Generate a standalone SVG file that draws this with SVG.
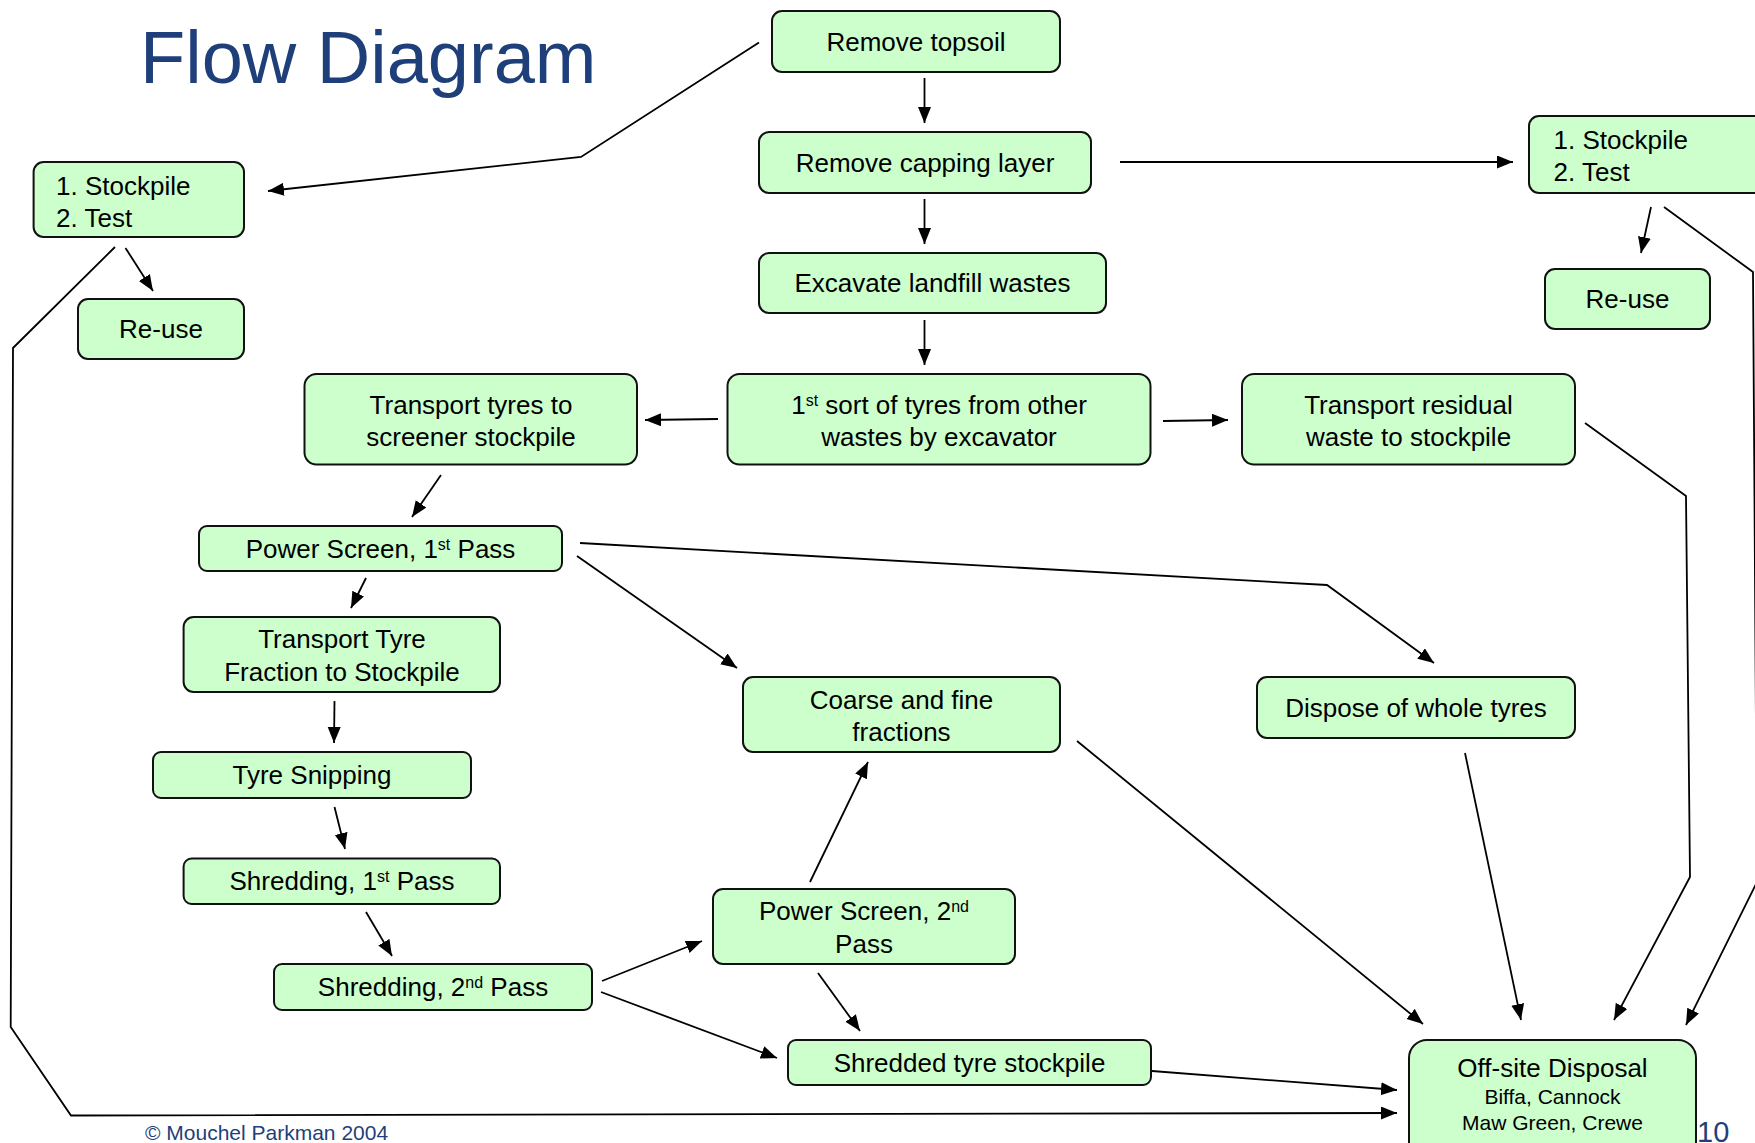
<svg xmlns="http://www.w3.org/2000/svg" width="1755" height="1143" viewBox="0 0 1755 1143">
<defs>
<style>
.box{fill:#CCFFCC;stroke:#111;stroke-width:2}
.t{font-family:"Liberation Sans",Arial,sans-serif;font-size:26px;fill:#000;text-anchor:middle}
.tl{font-family:"Liberation Sans",Arial,sans-serif;font-size:26px;fill:#000}
.ts{font-family:"Liberation Sans",Arial,sans-serif;font-size:21px;fill:#000;text-anchor:middle}
.sup{font-size:16px}
.c{fill:none;stroke:#000;stroke-width:1.8}
.blue{font-family:"Liberation Sans",Arial,sans-serif;fill:#1F3F7A}
</style>
<marker id="ah" markerUnits="userSpaceOnUse" markerWidth="17" markerHeight="14" refX="16" refY="6.5" orient="auto" viewBox="0 0 17 14">
<path d="M0,0 L16,6.5 L0,13 z" fill="#000"/>
</marker>
</defs>
<rect width="1755" height="1143" fill="#fff"/>
<text class="blue" x="140" y="83" font-size="74">Flow Diagram</text>
<text class="blue" x="145" y="1140" font-size="21">© Mouchel Parkman 2004</text>
<text class="blue" x="1697" y="1142" font-size="29">10</text>

<g id="connectors">
<line class="c" x1="924.5" y1="78" x2="924.5" y2="123" marker-end="url(#ah)"/>
<line class="c" x1="924.5" y1="199" x2="924.5" y2="244" marker-end="url(#ah)"/>
<line class="c" x1="924.5" y1="320" x2="924.5" y2="365" marker-end="url(#ah)"/>
<line class="c" x1="1120" y1="162" x2="1513" y2="162" marker-end="url(#ah)"/>
<polyline class="c" points="759,42.5 581,157 268,191" marker-end="url(#ah)"/>
<line class="c" x1="125.5" y1="248" x2="153" y2="291" marker-end="url(#ah)"/>
<polyline class="c" points="115,247 13,348 10.7,1027 71,1115.5 1397,1113" marker-end="url(#ah)"/>
<line class="c" x1="1651" y1="207" x2="1641" y2="253" marker-end="url(#ah)"/>
<polyline class="c" points="1664,207 1753,272 1757,882 1686,1025" marker-end="url(#ah)"/>
<line class="c" x1="718" y1="419" x2="645" y2="420" marker-end="url(#ah)"/>
<line class="c" x1="1163" y1="421" x2="1228" y2="420" marker-end="url(#ah)"/>
<polyline class="c" points="1585,423 1686,496 1690,877 1614,1020" marker-end="url(#ah)"/>
<line class="c" x1="441" y1="475" x2="412" y2="517" marker-end="url(#ah)"/>
<line class="c" x1="366" y1="578" x2="351" y2="608" marker-end="url(#ah)"/>
<line class="c" x1="577" y1="556" x2="737" y2="668" marker-end="url(#ah)"/>
<polyline class="c" points="580,543 1327,585 1434,663" marker-end="url(#ah)"/>
<line class="c" x1="334.5" y1="701" x2="334" y2="743" marker-end="url(#ah)"/>
<line class="c" x1="334.5" y1="807" x2="345" y2="849" marker-end="url(#ah)"/>
<line class="c" x1="366" y1="912" x2="392" y2="956" marker-end="url(#ah)"/>
<line class="c" x1="602" y1="981" x2="702" y2="941" marker-end="url(#ah)"/>
<line class="c" x1="601" y1="992" x2="777" y2="1058" marker-end="url(#ah)"/>
<line class="c" x1="810" y1="882" x2="868" y2="762" marker-end="url(#ah)"/>
<line class="c" x1="818" y1="973" x2="860" y2="1031" marker-end="url(#ah)"/>
<line class="c" x1="1152" y1="1071" x2="1397" y2="1090" marker-end="url(#ah)"/>
<line class="c" x1="1077" y1="741" x2="1423" y2="1024" marker-end="url(#ah)"/>
<line class="c" x1="1465" y1="753" x2="1521" y2="1020" marker-end="url(#ah)"/>
</g>

<g id="remove-topsoil"><rect class="box" x="772" y="11" width="288" height="61" rx="10"/><text class="t" x="916" y="51">Remove topsoil</text></g>
<g id="remove-capping"><rect class="box" x="759" y="132" width="332" height="61" rx="10"/><text class="t" x="925" y="172">Remove capping layer</text></g>
<g id="excavate"><rect class="box" x="759" y="253" width="347" height="60" rx="10"/><text class="t" x="932.5" y="292">Excavate landfill wastes</text></g>
<g id="first-sort"><rect class="box" x="727.5" y="374" width="423" height="90.5" rx="12"/><text class="t" x="939" y="414"><tspan>1</tspan><tspan class="sup" baseline-shift="super">st</tspan><tspan> sort of tyres from other</tspan></text><text class="t" x="939" y="445.5">wastes by excavator</text></g>
<g id="transport-tyres"><rect class="box" x="304.5" y="374" width="332.5" height="90.5" rx="12"/><text class="t" x="471" y="414">Transport tyres to</text><text class="t" x="471" y="445.5">screener stockpile</text></g>
<g id="transport-residual"><rect class="box" x="1242" y="374" width="333" height="90.5" rx="12"/><text class="t" x="1408.5" y="414">Transport residual</text><text class="t" x="1408.5" y="445.5">waste to stockpile</text></g>
<g id="stockpile-left"><rect class="box" x="33.6" y="162" width="210.4" height="75" rx="10"/><text class="tl" x="56" y="195">1. Stockpile</text><text class="tl" x="56" y="227">2. Test</text></g>
<g id="reuse-left"><rect class="box" x="78" y="299" width="166" height="60" rx="10"/><text class="t" x="161" y="338">Re-use</text></g>
<g id="stockpile-right"><rect class="box" x="1529" y="116" width="240" height="77" rx="10"/><text class="tl" x="1553.6" y="149">1. Stockpile</text><text class="tl" x="1553.6" y="181">2. Test</text></g>
<g id="reuse-right"><rect class="box" x="1545" y="269" width="165" height="60" rx="10"/><text class="t" x="1627.5" y="308">Re-use</text></g>
<g id="power-screen-1"><rect class="box" x="199" y="526" width="363" height="45" rx="8"/><text class="t" x="380.5" y="557.5"><tspan>Power Screen, 1</tspan><tspan class="sup" baseline-shift="super">st</tspan><tspan> Pass</tspan></text></g>
<g id="transport-fraction"><rect class="box" x="183.6" y="617" width="316.4" height="75" rx="10"/><text class="t" x="342" y="648">Transport Tyre</text><text class="t" x="342" y="680.5">Fraction to Stockpile</text></g>
<g id="tyre-snipping"><rect class="box" x="153" y="752" width="318" height="46" rx="8"/><text class="t" x="312" y="784">Tyre Snipping</text></g>
<g id="shredding-1"><rect class="box" x="183.6" y="858.5" width="316.4" height="45.5" rx="8"/><text class="t" x="342" y="890"><tspan>Shredding, 1</tspan><tspan class="sup" baseline-shift="super">st</tspan><tspan> Pass</tspan></text></g>
<g id="shredding-2"><rect class="box" x="274" y="964" width="318" height="46" rx="8"/><text class="t" x="433" y="996"><tspan>Shredding, 2</tspan><tspan class="sup" baseline-shift="super">nd</tspan><tspan> Pass</tspan></text></g>
<g id="power-screen-2"><rect class="box" x="713" y="889" width="302" height="75" rx="10"/><text class="t" x="864" y="920"><tspan>Power Screen, 2</tspan><tspan class="sup" baseline-shift="super">nd</tspan></text><text class="t" x="864" y="952.5">Pass</text></g>
<g id="shredded-stockpile"><rect class="box" x="788" y="1040" width="363" height="45" rx="8"/><text class="t" x="969.5" y="1071.5">Shredded tyre stockpile</text></g>
<g id="coarse-fine"><rect class="box" x="743" y="677" width="317" height="75" rx="10"/><text class="t" x="901.5" y="708.5">Coarse and fine</text><text class="t" x="901.5" y="741">fractions</text></g>
<g id="dispose-whole"><rect class="box" x="1257" y="677" width="318" height="61" rx="10"/><text class="t" x="1416" y="716.5">Dispose of whole tyres</text></g>
<g id="offsite-disposal"><rect class="box" x="1409" y="1040" width="287" height="125" rx="18"/><text class="t" x="1552.5" y="1077">Off-site Disposal</text><text class="ts" x="1552.5" y="1104">Biffa, Cannock</text><text class="ts" x="1552.5" y="1130">Maw Green, Crewe</text></g>
</svg>
